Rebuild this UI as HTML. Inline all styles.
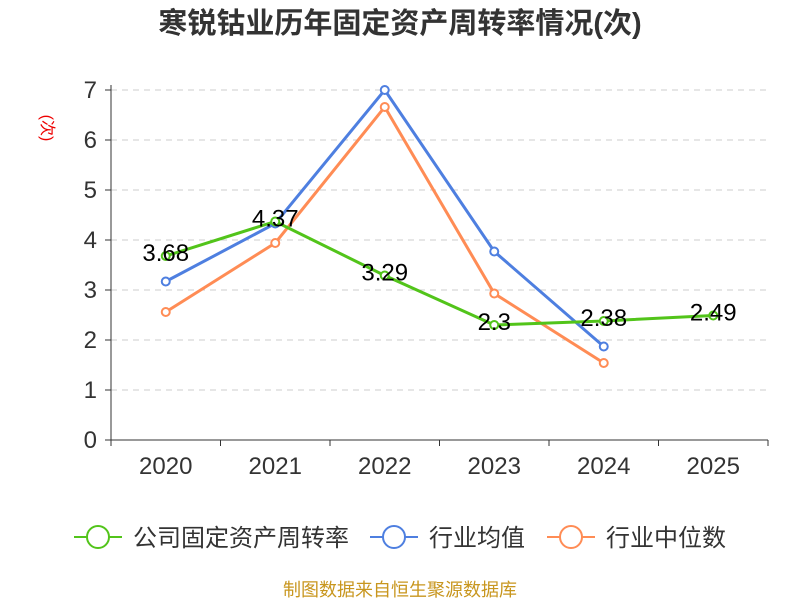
<!DOCTYPE html>
<html><head><meta charset="utf-8"><style>
body{margin:0;background:#fff;width:800px;height:600px;overflow:hidden}
text{font-family:"Liberation Sans","Noto Sans CJK SC",sans-serif}
</style></head><body>
<svg id="chart" width="800" height="600" xmlns="http://www.w3.org/2000/svg">
<text x="400" y="33" text-anchor="middle" font-size="29" font-weight="bold" fill="#333">寒锐钴业历年固定资产周转率情况(次)</text>
<text transform="translate(42,128) rotate(90)" text-anchor="middle" font-size="16" fill="#e00">(次)</text>
<g id="grid"></g><g id="axes"></g><g id="series"></g>
<g>
<g><line x1="74" y1="537" x2="122" y2="537" stroke="#52c41a" stroke-width="2"/><circle cx="98" cy="537" r="11" fill="#fff" stroke="#52c41a" stroke-width="2"/><text x="133" y="546" font-size="24" fill="#333">公司固定资产周转率</text></g>
<g><line x1="370" y1="537" x2="418" y2="537" stroke="#4e7fe0" stroke-width="2"/><circle cx="394" cy="537" r="11" fill="#fff" stroke="#4e7fe0" stroke-width="2"/><text x="429" y="546" font-size="24" fill="#333">行业均值</text></g>
<g><line x1="547" y1="537" x2="595" y2="537" stroke="#ff8c55" stroke-width="2"/><circle cx="571" cy="537" r="11" fill="#fff" stroke="#ff8c55" stroke-width="2"/><text x="606" y="546" font-size="24" fill="#333">行业中位数</text></g>
</g>
<text x="400" y="596" text-anchor="middle" font-size="18" fill="#c8961e">制图数据来自恒生聚源数据库</text>
</svg>
<script>
const categories=["2020","2021","2022","2023","2024","2025"];
const companyValues=[3.68,4.37,3.29,2.3,2.38,2.49];
const avgValues=[3.17,4.33,7.0,3.77,1.87];
const medianValues=[2.56,3.94,6.66,2.93,1.54];
const yTicks=[0,1,2,3,4,5,6,7];
const NS="http://www.w3.org/2000/svg";
const x0=111,x1=768,yb=440,yt=90,ymax=7;
const band=(x1-x0)/categories.length;
const xs=i=>x0+band*(i+0.5);
const ys=v=>yb-(v/ymax)*(yb-yt);
function mk(tag,attrs,parent){const e=document.createElementNS(NS,tag);for(const k in attrs)e.setAttribute(k,attrs[k]);parent.appendChild(e);return e;}
const grid=document.getElementById('grid'),axes=document.getElementById('axes'),ser=document.getElementById('series');
yTicks.forEach(t=>{
  if(t>0){const l=mk('line',{x1:x0,x2:x1,y1:ys(t),y2:ys(t),stroke:'#ccc','stroke-dasharray':'6,5'},grid);
  
  }
  const tx=mk('text',{x:x0-14,y:ys(t)+8,'text-anchor':'end','font-size':24,fill:'#333'},axes);tx.textContent=t;
  
  
  mk('line',{x1:x0-6,x2:x0,y1:ys(t),y2:ys(t),stroke:'#333'},axes);
});
const ya=mk('line',{x1:x0,x2:x0,y1:yt-5,y2:yb,stroke:'#333'},axes);


const xa=mk('line',{x1:x0,x2:x1,y1:yb,y2:yb,stroke:'#333'},axes);


for(let i=0;i<=categories.length;i++)mk('line',{x1:x0+band*i,x2:x0+band*i,y1:yb,y2:yb+6,stroke:'#333'},axes);
categories.forEach((c,i)=>{const t=mk('text',{x:xs(i),y:yb+34,'text-anchor':'middle','font-size':24,fill:'#333'},axes);t.textContent=c;
  
  });
function series(vals,color,name){
  const p=mk('polyline',{points:vals.map((v,i)=>xs(i)+','+ys(v)).join(' '),fill:'none',stroke:color,'stroke-width':3},ser);
  
  
  vals.forEach((v,i)=>{const c=mk('circle',{cx:xs(i),cy:ys(v),r:4,fill:'#fff',stroke:color,'stroke-width':2},ser);
    
    });
}
series(avgValues,'#4e7fe0','industry-avg');
series(medianValues,'#ff8c55','industry-median');
series(companyValues,'#52c41a','company');
companyValues.forEach((v,i)=>{const t=mk('text',{x:xs(i),y:ys(v)+5,'text-anchor':'middle','font-size':24,fill:'#000'},ser);t.textContent=v;
  
  });
</script>
</body></html>
